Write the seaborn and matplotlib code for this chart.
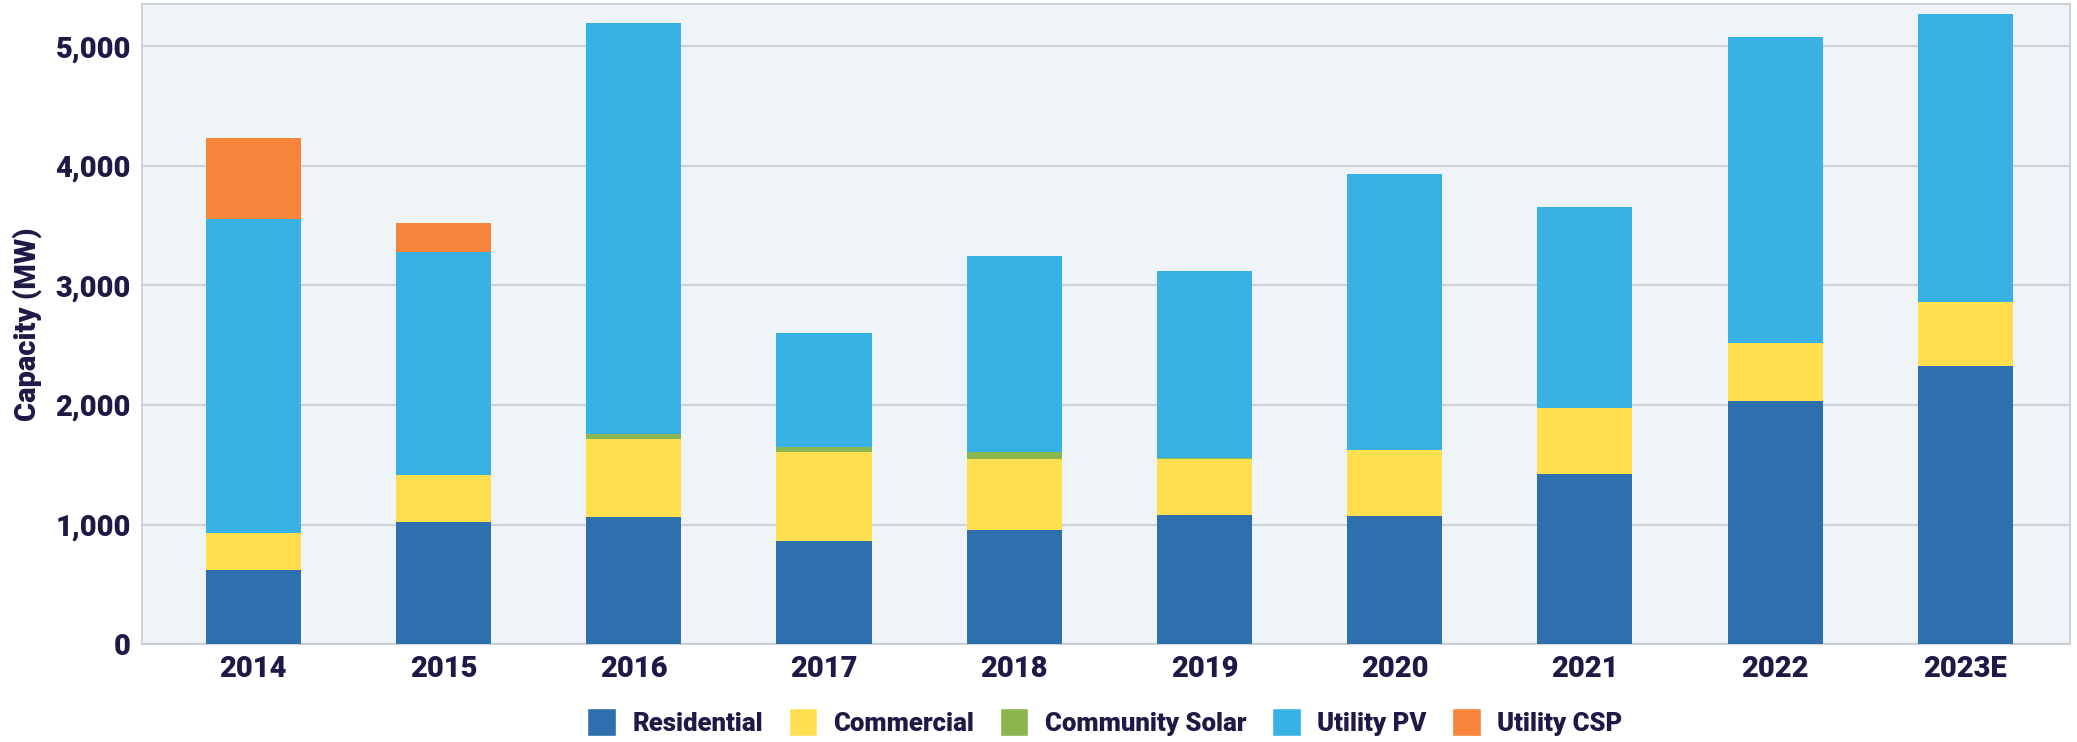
import pandas as pd
import matplotlib.pyplot as plt
import seaborn as sns
import numpy as np
from matplotlib.patches import Patch

years = ["2014", "2015", "2016", "2017", "2018", "2019", "2020", "2021", "2022", "2023E"]
residential = [620, 1020, 1065, 865, 955, 1080, 1075, 1420, 2035, 2325]
commercial = [305, 395, 650, 740, 595, 470, 545, 555, 480, 535]
community_solar = [0, 0, 45, 40, 60, 10, 5, 0, 0, 0]
utility_pv = [2630, 1865, 3440, 955, 1635, 1565, 2305, 1685, 2565, 2410]
utility_csp = [675, 245, 0, 0, 0, 0, 0, 0, 0, 0]

series = ["Residential", "Commercial", "Community Solar", "Utility PV", "Utility CSP"]
colors = ["#2e6fae", "#ffdf4f", "#8bb54f", "#38b2e4", "#f6843a"]
values = [residential, commercial, community_solar, utility_pv, utility_csp]

text_color = "#1e1a47"
sns.set_style("white")
plt.rcParams['font.family'] = ['Roboto', 'DejaVu Sans']

fig = plt.figure(figsize=(20.77, 7.42), dpi=100)
ax = fig.add_axes([0.0684, 0.132, 0.9282, 0.8626])
ax.set_facecolor("#eef4f7")

bottom = np.zeros(len(years))
for name, vals, col in zip(series, values, colors):
    df = pd.DataFrame({"year": years, "mw": vals})
    sns.barplot(data=df, x="year", y="mw", order=years, color=col, width=0.5,
                bottom=bottom, linewidth=0, saturation=1, ax=ax, zorder=3)
    bottom = bottom + np.array(vals)

ax.set_ylim(0, 5355)
ax.set_xlim(-0.585, 9.55)
ax.set_yticks([0, 1000, 2000, 3000, 4000, 5000])
ax.set_yticklabels(["0", "1,000", "2,000", "3,000", "4,000", "5,000"])
ax.grid(axis='y', color="#cdd2d6", linewidth=1.6, zorder=0)
ax.set_axisbelow(True)
for s in ax.spines.values():
    s.set_color("#c5cbd0")
    s.set_linewidth(1.2)

ax.set_xlabel("")
ax.set_ylabel("Capacity (MW)", fontsize=21, fontweight="heavy", color=text_color, labelpad=10)
ax.tick_params(axis='both', length=0, labelsize=21, colors=text_color, pad=8)
for lbl in ax.get_xticklabels() + ax.get_yticklabels():
    lbl.set_fontweight("heavy")

handles = [Patch(facecolor=c, label=n) for n, c in zip(series, colors)]
leg = fig.legend(handles=handles, loc="center", bbox_to_anchor=(0.532, 0.027), ncol=5,
                 frameon=False, fontsize=18.5, handlelength=1.1, handleheight=1.3,
                 columnspacing=1.0, handletextpad=0.65)
for t in leg.get_texts():
    t.set_color(text_color)
    t.set_fontweight("heavy")

fig.savefig("out.png", dpi=100)
